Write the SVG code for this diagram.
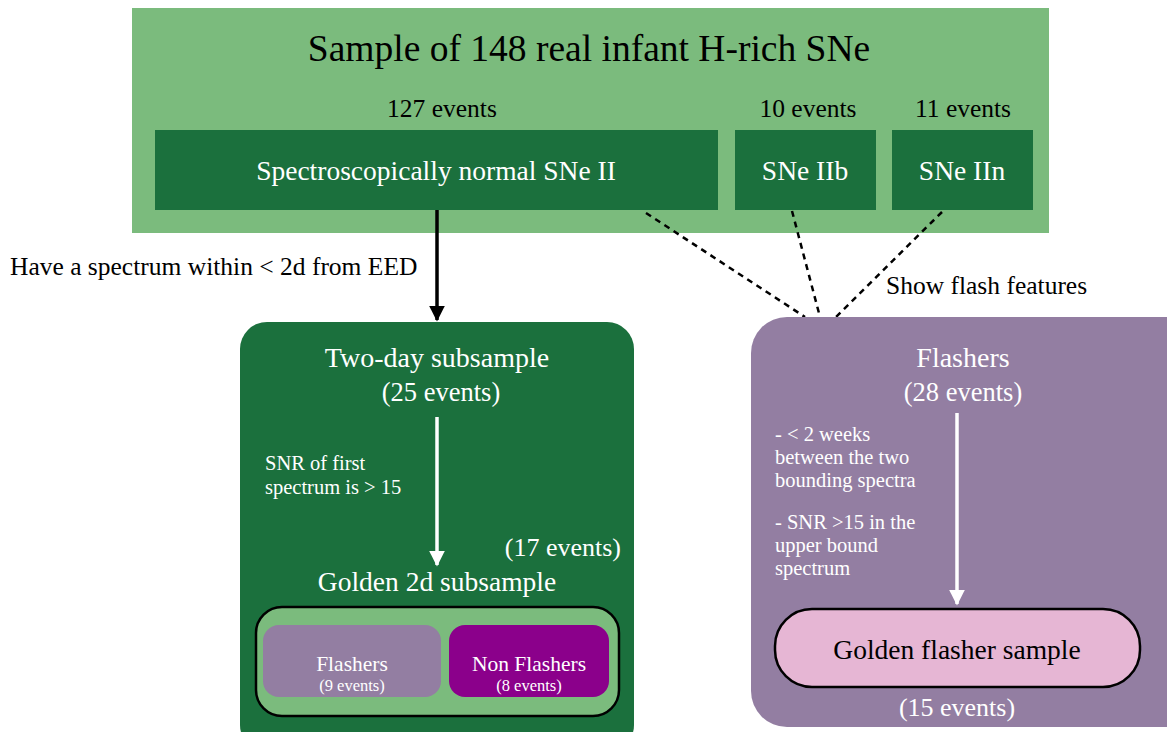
<svg xmlns="http://www.w3.org/2000/svg" width="1167" height="732" viewBox="0 0 1167 732">
<defs>
<style>
text{font-family:"Liberation Serif","DejaVu Serif",serif;}
.w{fill:#ffffff;}
.k{fill:#000000;}
.dg{fill:#1B703D;}
.lg{fill:#7BBB7D;}
.pu{fill:#937EA2;}
.dash{stroke:#000;stroke-width:2.5;stroke-dasharray:6,5;fill:none;}
.c{text-anchor:middle;}
.sm{font-size:20.5px;}
</style>
<marker id="ak" viewBox="0 0 10 10" refX="9" refY="5" markerWidth="4.5" markerHeight="4.5" orient="auto" markerUnits="strokeWidth"><path d="M0,0 L10,5 L0,10 z" fill="#000"/></marker>
<marker id="aw" viewBox="0 0 10 10" refX="9" refY="5" markerWidth="4.5" markerHeight="4.5" orient="auto" markerUnits="strokeWidth"><path d="M0,0 L10,5 L0,10 z" fill="#fff"/></marker>
</defs>
<rect width="1167" height="732" fill="#fff"/>
<g id="top">
<rect x="132" y="8" width="917" height="225" class="lg"/>
<text x="589" y="61" class="c k" font-size="37.5">Sample of 148 real infant H-rich SNe</text>
</g>
<g id="normal">
<text x="442" y="117" class="c k" font-size="25.5">127 events</text>
<rect x="155" y="130" width="563" height="80" class="dg"/>
<text x="436" y="180" class="c w" font-size="27.5">Spectroscopically normal SNe II</text>
</g>
<g id="iib">
<text x="808" y="117" class="c k" font-size="25.5">10 events</text>
<rect x="735" y="130" width="141" height="80" class="dg"/>
<text x="805" y="180" class="c w" font-size="27.5">SNe IIb</text>
</g>
<g id="iin">
<text x="963" y="117" class="c k" font-size="25.5">11 events</text>
<rect x="892" y="130" width="141" height="80" class="dg"/>
<text x="962" y="180" class="c w" font-size="27.5">SNe IIn</text>
</g>
<g id="connectors">
<line x1="437" y1="210" x2="437" y2="320" stroke="#000" stroke-width="3.5" marker-end="url(#ak)"/>
<line x1="646" y1="213" x2="805" y2="317" class="dash"/>
<line x1="792" y1="211" x2="820" y2="317" class="dash"/>
<line x1="942" y1="212" x2="836" y2="317" class="dash"/>
<text x="10" y="275" class="k" font-size="25.5">Have a spectrum within &lt; 2d from EED</text>
<text x="886" y="294" class="k" font-size="25.5">Show flash features</text>
</g>
<g id="twoday">
<rect x="240" y="322" width="394" height="430" rx="27" class="dg"/>
<text x="437" y="367" class="c w" font-size="28">Two-day subsample</text>
<text x="441" y="401" class="c w" font-size="26.5">(25 events)</text>
<line x1="437" y1="417" x2="437" y2="565" stroke="#fff" stroke-width="3.5" marker-end="url(#aw)"/>
<text x="265" y="470" class="w sm">SNR of first</text>
<text x="265" y="494" class="w sm">spectrum is &gt; 15</text>
<text x="621" y="556" class="w" font-size="26" text-anchor="end">(17 events)</text>
<text x="437" y="591" class="c w" font-size="27.5">Golden 2d subsample</text>
</g>
<g id="golden2d">
<rect x="256" y="607" width="363" height="109" rx="26" class="lg" stroke="#000" stroke-width="2.5"/>
</g>
<g id="flashers2d">
<rect x="263" y="625" width="178" height="72" rx="16" fill="#937EA2"/>
<text x="352" y="671" class="c w" font-size="21.5">Flashers</text>
<text x="352" y="691" class="c w" font-size="16.5">(9 events)</text>
</g>
<g id="nonflashers2d">
<rect x="449" y="625" width="160" height="72" rx="16" fill="#8B008B"/>
<text x="529" y="671" class="c w" font-size="21.5">Non Flashers</text>
<text x="529" y="691" class="c w" font-size="16.5">(8 events)</text>
</g>
<g id="flashers">
<rect x="751" y="317" width="450" height="410" rx="36" class="pu"/>
<text x="963" y="367" class="c w" font-size="28">Flashers</text>
<text x="963" y="401" class="c w" font-size="26.5">(28 events)</text>
<line x1="957" y1="413" x2="957" y2="604" stroke="#fff" stroke-width="3.5" marker-end="url(#aw)"/>
<text x="775" y="441" class="w sm">- &lt; 2 weeks</text>
<text x="775" y="464" class="w sm">between the two</text>
<text x="775" y="487" class="w sm">bounding spectra</text>
<text x="775" y="529" class="w sm">- SNR &gt;15 in the</text>
<text x="775" y="552" class="w sm">upper bound</text>
<text x="775" y="575" class="w sm">spectrum</text>
<text x="957" y="716" class="c w" font-size="26">(15 events)</text>
</g>
<g id="goldenflasher">
<rect x="775" y="609" width="365" height="78" rx="37" fill="#E6B6D4" stroke="#000" stroke-width="2.5"/>
<text x="957" y="659" class="c k" font-size="27.5">Golden flasher sample</text>
</g>
</svg>
